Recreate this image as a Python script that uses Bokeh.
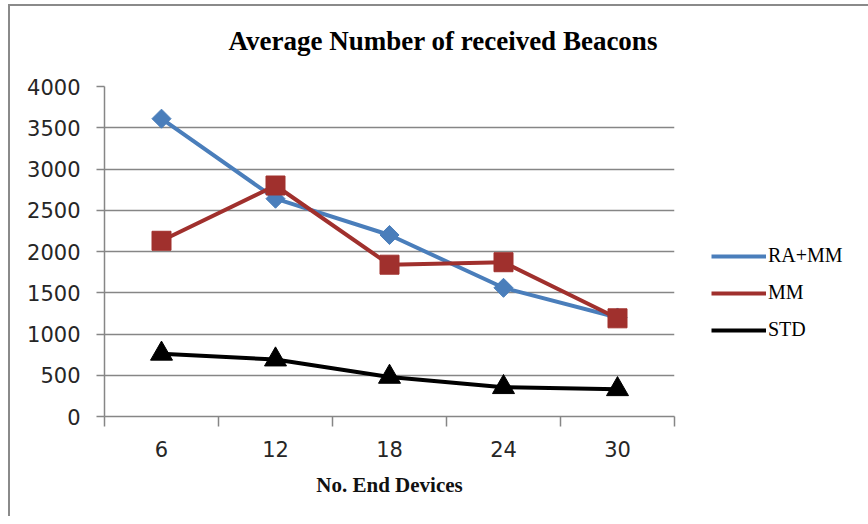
from bokeh.plotting import figure
from bokeh.models import Range1d, FixedTicker, Legend, LegendItem, Title
from bokeh.embed import file_html
from bokeh.resources import INLINE

devices = [6, 12, 18, 24, 30]
ra_mm = [3610, 2640, 2200, 1560, 1200]
mm = [2130, 2800, 1840, 1870, 1190]
std = [760, 690, 480, 355, 330]
y_ticks = [0, 500, 1000, 1500, 2000, 2500, 3000, 3500, 4000]
cat_bounds = [3, 9, 15, 21, 27, 33]
title_text = "Average Number  of received Beacons"

p = figure(frame_width=570, frame_height=330, output_backend="svg", toolbar_location=None,
           x_range=Range1d(3, 33), y_range=Range1d(0, 4000),
           min_border_left=94, min_border_right=0, min_border_top=80, min_border_bottom=100)
p.outline_line_color = None
p.background_fill_color = "white"
p.border_fill_color = "white"
p.styles = {"margin-left": "8px", "margin-top": "4px",
            "border-left": "2px solid #8a8a8a", "border-top": "2px solid #8a8a8a"}

# spacer between title and plot frame
p.add_layout(Title(text=" ", text_font_size="1px", standoff=28), "above")

p.title.text = title_text
p.title.align = "left"
p.title.offset = 124
p.title.standoff = 0
p.title.text_font = "Liberation Serif"
p.title.text_font_style = "bold"
p.title.text_font_size = "27px"
p.title.text_color = "#000000"

p.xaxis.ticker = FixedTicker(ticks=devices, minor_ticks=cat_bounds)
p.xaxis.major_tick_out = 0
p.xaxis.major_tick_in = 0
p.xaxis.minor_tick_out = 10
p.xaxis.minor_tick_in = 0
p.xaxis.minor_tick_line_color = "#868686"
p.xaxis.minor_tick_line_width = 1.5
p.xaxis.axis_line_color = "#868686"
p.xaxis.axis_line_width = 1.5
p.xaxis.major_label_text_font = "DejaVu Sans"
p.xaxis.major_label_text_font_size = "21px"
p.xaxis.major_label_text_color = "#262626"
p.xaxis.major_label_standoff = 14
p.xaxis.axis_label = "No. End Devices"
p.xaxis.axis_label_text_font = "Liberation Serif"
p.xaxis.axis_label_text_font_style = "bold"
p.xaxis.axis_label_text_font_size = "21px"
p.xaxis.axis_label_text_color = "#111111"
p.xaxis.axis_label_standoff = 13

p.yaxis.ticker = FixedTicker(ticks=y_ticks)
p.yaxis.minor_tick_line_color = None
p.yaxis.major_tick_out = 8
p.yaxis.major_tick_in = 0
p.yaxis.major_tick_line_color = "#868686"
p.yaxis.major_tick_line_width = 1.5
p.yaxis.axis_line_color = "#868686"
p.yaxis.axis_line_width = 1.5
p.yaxis.major_label_text_font = "DejaVu Sans"
p.yaxis.major_label_text_font_size = "21px"
p.yaxis.major_label_text_color = "#262626"
p.yaxis.major_label_standoff = 16

p.xgrid.grid_line_color = None
p.ygrid.ticker = FixedTicker(ticks=y_ticks)
p.ygrid.grid_line_color = "#868686"
p.ygrid.grid_line_width = 1.5

blue = "#4a7ebb"
red = "#a0302d"
black = "#000000"

l1 = p.line(devices, ra_mm, line_color=blue, line_width=4)
m1 = p.scatter(devices, ra_mm, marker="square", size=13.5, angle=0.785398,
               fill_color=blue, line_color=blue)
l2 = p.line(devices, mm, line_color=red, line_width=4)
m2 = p.scatter(devices, mm, marker="square", size=19, fill_color=red, line_color=red)
l3 = p.line(devices, std, line_color=black, line_width=4)
m3 = p.scatter(devices, std, marker="triangle", size=22, fill_color=black, line_color=black)

legend = Legend(items=[LegendItem(label="RA+MM", renderers=[l1]),
                       LegendItem(label="MM", renderers=[l2]),
                       LegendItem(label="STD", renderers=[l3])],
                location=(37, 75), orientation="vertical")
legend.border_line_color = None
legend.background_fill_alpha = 0
legend.margin = 0
legend.padding = 0
legend.spacing = 14
legend.glyph_width = 55
legend.glyph_height = 20
legend.label_height = 20
legend.label_standoff = 2
legend.label_text_font = "Liberation Serif"
legend.label_text_font_size = "20px"
legend.label_text_color = "#000000"
p.add_layout(legend, "right")

open("out.html", "w").write(file_html(p, INLINE))
